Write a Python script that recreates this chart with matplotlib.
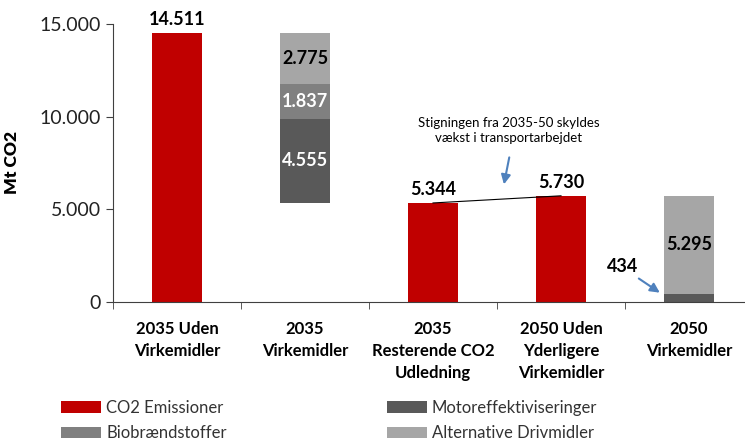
import numpy as np
import matplotlib.pyplot as plt
from matplotlib.ticker import FuncFormatter, FixedLocator

plt.rcParams['font.family'] = ['Lato', 'DejaVu Sans']

# Data
categories = ['2035 Uden\nVirkemidler', '2035\nVirkemidler', '2035\nResterende CO2\nUdledning',
              '2050 Uden\nYderligere\nVirkemidler', '2050\nVirkemidler']
co2 = [14511, 0, 5344, 5730, 0]
motor = [0, 4555, 0, 0, 434]
bio = [0, 1837, 0, 0, 0]
alt = [0, 2775, 0, 0, 5295]
base = [0, 5344, 0, 0, 0]

red = '#C00000'
c_motor = '#595959'
c_bio = '#808080'
c_alt = '#A6A6A6'

fig = plt.figure(figsize=(7.45, 4.40), dpi=100)
ax = fig.add_axes([113 / 745, 138 / 440, 640 / 745, 278 / 440])

x = np.arange(len(categories))
w = 0.39
b1 = np.array(base)
ax.bar(x, co2, w, color=red, label='CO2 Emissioner')
ax.bar(x, motor, w, bottom=b1, color=c_motor, label='Motoreffektiviseringer')
b2 = b1 + np.array(motor)
ax.bar(x, bio, w, bottom=b2, color=c_bio, label='Biobrændstoffer')
b3 = b2 + np.array(bio)
ax.bar(x, alt, w, bottom=b3, color=c_alt, label='Alternative Drivmidler')

def fmt(v):
    return f'{v:,.0f}'.replace(',', '.')

# value labels
ax.text(0, co2[0] + 250, fmt(co2[0]), ha='center', va='bottom', fontsize=13, fontweight='bold')
ax.text(1, b1[1] + motor[1] / 2, fmt(motor[1]), ha='center', va='center', fontsize=13,
        fontweight='bold', color='white')
ax.text(1, b2[1] + bio[1] / 2, fmt(bio[1]), ha='center', va='center', fontsize=13,
        fontweight='bold', color='white')
ax.text(1, b3[1] + alt[1] / 2, fmt(alt[1]), ha='center', va='center', fontsize=13,
        fontweight='bold', color='black')
ax.text(2, co2[2] + 250, fmt(co2[2]), ha='center', va='bottom', fontsize=13, fontweight='bold')
ax.text(3, co2[3] + 250, fmt(co2[3]), ha='center', va='bottom', fontsize=13, fontweight='bold')
ax.text(4, b3[4] + alt[4] / 2, fmt(alt[4]), ha='center', va='center', fontsize=13,
        fontweight='bold', color='black')

# line between 2035 and 2050 remaining
ax.plot([2, 3], [co2[2], co2[3]], color='black', lw=0.8)

arrow_c = '#4F81BD'
ax.text(2.59, 9250, 'Stigningen fra 2035-50 skyldes\nvækst i transportarbejdet', ha='center',
        va='center', fontsize=9.5, linespacing=1.3)
ax.annotate('', xy=(2.55, 6200), xytext=(2.6, 7950),
            arrowprops=dict(arrowstyle='-|>', color=arrow_c, lw=1.5, mutation_scale=14))
ax.text(3.48, 1900, fmt(motor[4]), ha='center', va='center', fontsize=13, fontweight='bold')
ax.annotate('', xy=(3.79, 420), xytext=(3.59, 1350),
            arrowprops=dict(arrowstyle='-|>', color=arrow_c, lw=1.5, mutation_scale=14))

# axes styling
ax.set_xlim(-0.5, 4.5)
ax.set_ylim(0, 15000)
ax.set_yticks([0, 5000, 10000, 15000])
ax.yaxis.set_major_formatter(FuncFormatter(lambda v, p: fmt(v)))
ax.set_ylabel('Mt CO2', fontsize=12.5, fontweight='heavy', labelpad=14)
ax.set_xticks(x)
ax.set_xticklabels(categories, fontsize=12, fontweight='bold', linespacing=1.45)
ax.xaxis.set_minor_locator(FixedLocator(np.arange(-0.5, 5, 1)))
ax.tick_params(axis='x', which='major', length=0, pad=14)
ax.tick_params(axis='x', which='minor', length=5, direction='out', color='#404040')
ax.tick_params(axis='y', labelsize=14, length=5, color='#404040', labelcolor='#222222')
for s in ['top', 'right']:
    ax.spines[s].set_visible(False)
for s in ['left', 'bottom']:
    ax.spines[s].set_color('#404040')

# legend
h, l = ax.get_legend_handles_labels()
order = [0, 2, 1, 3]
fig.legend([h[i] for i in order], [l[i] for i in order], ncol=2, frameon=False,
           loc='upper left', bbox_to_anchor=(0.062, 0.125), fontsize=12,
           handlelength=2.4, handleheight=0.7, handletextpad=0.3, columnspacing=9.6,
           labelspacing=0.55, labelcolor='#333333')

fig.savefig('out.png', dpi=100)
